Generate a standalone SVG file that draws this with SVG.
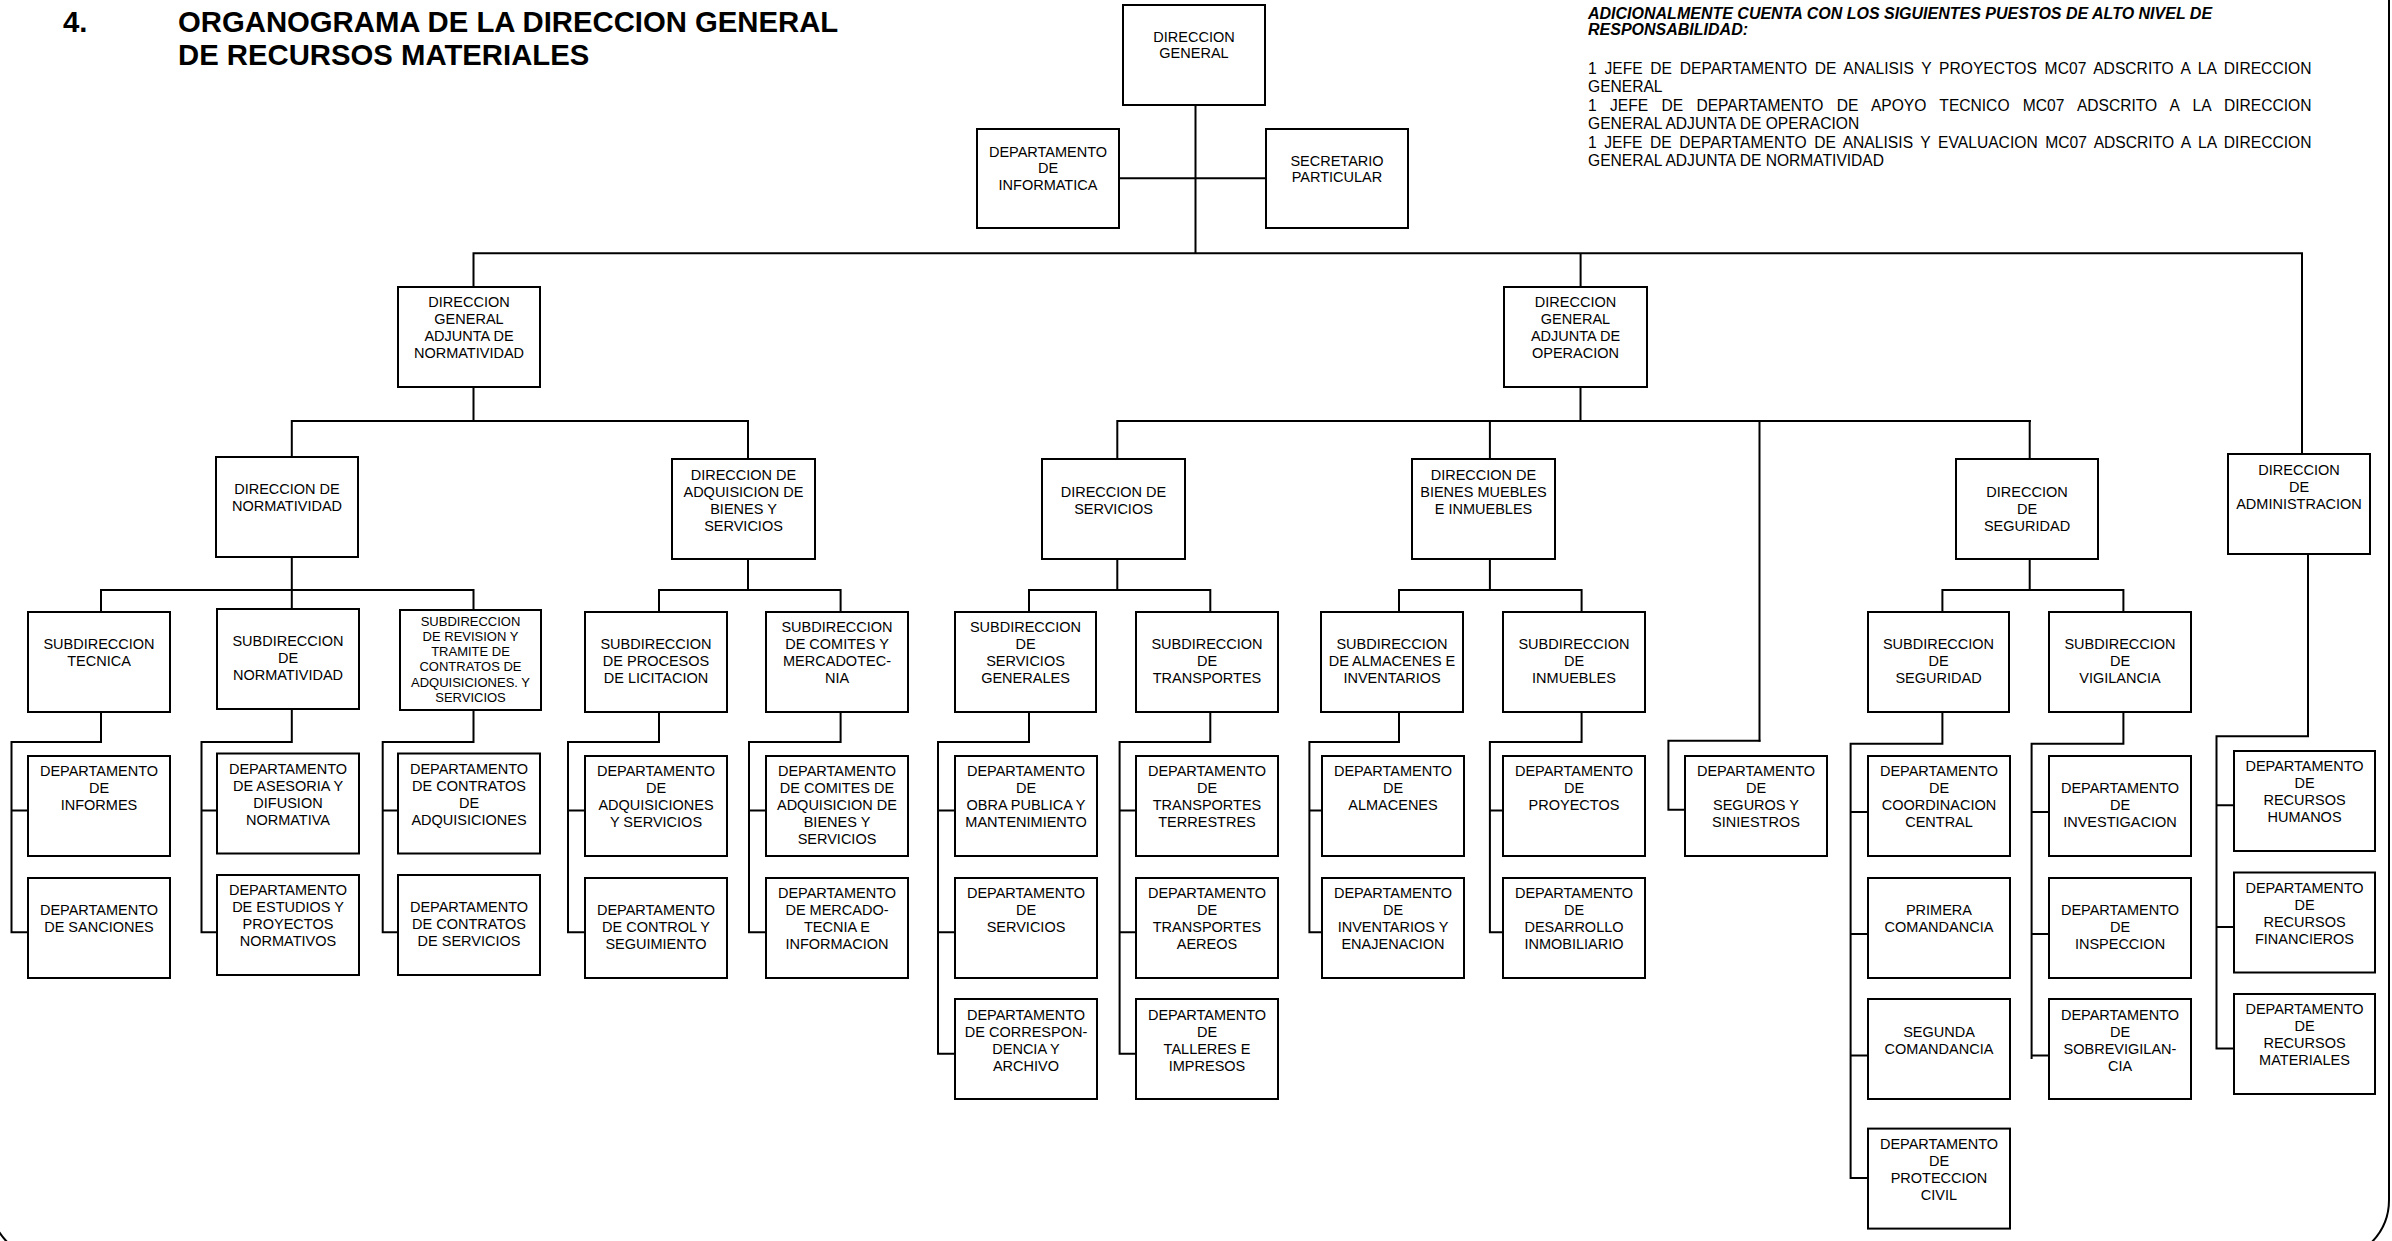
<svg xmlns="http://www.w3.org/2000/svg" width="2392" height="1241" viewBox="0 0 2392 1241">
<style>
.b{fill:#fff;stroke:#000;stroke-width:2}
.t{font-family:"Liberation Sans",Arial,sans-serif;font-size:14.5px;text-anchor:middle;fill:#000}
.s{font-size:13px}
.c{stroke:#000;stroke-width:2;fill:none;stroke-linecap:square}
.h{font-family:"Liberation Sans",Arial,sans-serif;font-weight:bold;font-size:29.3px;fill:#000}
.n{font-family:"Liberation Sans",Arial,sans-serif;font-size:15.6px;fill:#000}
.ni{font-family:"Liberation Sans",Arial,sans-serif;font-size:16px;font-weight:bold;font-style:italic;fill:#000}
</style>
<rect width="2392" height="1241" fill="#fff"/>
<rect x="-10" y="-200" width="2399" height="1460" rx="60" fill="none" stroke="#000" stroke-width="2"/>

<g id="title">
<text class="h" x="63" y="32">4.</text>
<text class="h" x="178" y="32">ORGANOGRAMA DE LA DIRECCION GENERAL</text>
<text class="h" x="178" y="65">DE RECURSOS MATERIALES</text>
</g>

<g id="nota">
<text class="ni" x="1588" y="19">ADICIONALMENTE CUENTA CON LOS SIGUIENTES PUESTOS DE ALTO NIVEL DE</text>
<text class="ni" x="1588" y="35">RESPONSABILIDAD:</text>
<text class="n" x="1588" y="74" word-spacing="3.3" textLength="723.5" lengthAdjust="spacing">1 JEFE DE DEPARTAMENTO DE ANALISIS Y PROYECTOS MC07 ADSCRITO A LA DIRECCION</text>
<text class="n" x="1588" y="92.4">GENERAL</text>
<text class="n" x="1588" y="110.8" word-spacing="9" textLength="723.5" lengthAdjust="spacing">1 JEFE DE DEPARTAMENTO DE APOYO TECNICO MC07 ADSCRITO A LA DIRECCION</text>
<text class="n" x="1588" y="129.2">GENERAL ADJUNTA DE OPERACION</text>
<text class="n" x="1588" y="147.6" word-spacing="3.2" textLength="723.5" lengthAdjust="spacing">1 JEFE DE DEPARTAMENTO DE ANALISIS Y EVALUACION MC07 ADSCRITO A LA DIRECCION</text>
<text class="n" x="1588" y="166">GENERAL ADJUNTA DE NORMATIVIDAD</text>
</g>

<g id="connectors" class="c">
<path d="M1195.5 105V253.3M1119 178.3H1266M473.5 253.3H2302M473.5 253.3V287M1580.6 253.3V287M2302 253.3V454"/>
<path d="M473.5 387V421M291.8 421H748M291.8 421V457M748 421V459"/>
<path d="M1580.5 387V421M1117.3 421H2030M1117.3 421V459M1489.9 421V459M2029.7 421V459M1759.5 421V740.7"/>
<path d="M291.8 557V609M101 590H473.5M101 590V612M473.5 590V610"/>
<path d="M748 559V590M659 590H840.6M659 590V612M840.6 590V612"/>
<path d="M1117.3 559V590M1029 590H1210.3M1029 590V612M1210.3 590V612"/>
<path d="M1489.9 559V590M1399 590H1581.6M1399 590V612M1581.6 590V612"/>
<path d="M2029.7 559V590M1942.4 590H2123.4M1942.4 590V612M2123.4 590V612"/>
<path d="M101 712V742H11.5V932.2M11.5 810.4H28M11.5 932.2H28"/>
<path d="M291.8 709V742H201.5V932.2M201.5 810.4H217M201.5 932.2H217"/>
<path d="M473.5 710V742H382.7V932.2M382.7 810.4H398M382.7 932.2H398"/>
<path d="M659 712V742H568V932.2M568 810.4H585M568 932.2H585"/>
<path d="M840.6 712V742H749V932.2M749 810.4H766M749 932.2H766"/>
<path d="M1029 712V742H938V1053.7M938 810.4H955M938 932.2H955M938 1053.7H955"/>
<path d="M1210.3 712V742H1119.6V1053.7M1119.6 810.4H1136M1119.6 932.2H1136M1119.6 1053.7H1136"/>
<path d="M1399 712V742H1309.4V932.2M1309.4 810.4H1322M1309.4 932.2H1322"/>
<path d="M1581.6 712V742H1489.9V932.2M1489.9 810.4H1503M1489.9 932.2H1503"/>
<path d="M1759.5 740.7H1668.4V809.7H1685"/>
<path d="M1942.4 712V743.8H1850.6V1178M1850.6 812H1868M1850.6 934H1868M1850.6 1055.4H1868M1850.6 1178H1868"/>
<path d="M2123.4 712V743.8H2031.6V1058M2031.6 812H2049M2031.6 934H2049M2031.6 1055.4H2049"/>
<path d="M2308 554V736.2H2216.5V1048.5M2216.5 805.2H2234M2216.5 927H2234M2216.5 1048.5H2234"/>
</g>

<g id="dg"><rect class="b" x="1123" y="5" width="142" height="100"/><text class="t"><tspan x="1194" y="42">DIRECCION</tspan><tspan x="1194" y="58">GENERAL</tspan></text></g>
<g id="dep-informatica"><rect class="b" x="977" y="129" width="142" height="99"/><text class="t"><tspan x="1048" y="157">DEPARTAMENTO</tspan><tspan x="1048" y="173">DE</tspan><tspan x="1048" y="190">INFORMATICA</tspan></text></g>
<g id="secretario"><rect class="b" x="1266" y="129" width="142" height="99"/><text class="t"><tspan x="1337" y="166">SECRETARIO</tspan><tspan x="1337" y="182">PARTICULAR</tspan></text></g>

<g id="dga-normatividad"><rect class="b" x="398" y="287" width="142" height="100"/><text class="t"><tspan x="469" y="307">DIRECCION</tspan><tspan x="469" y="324">GENERAL</tspan><tspan x="469" y="341">ADJUNTA DE</tspan><tspan x="469" y="358">NORMATIVIDAD</tspan></text></g>
<g id="dga-operacion"><rect class="b" x="1504" y="287" width="143" height="100"/><text class="t"><tspan x="1575.5" y="307">DIRECCION</tspan><tspan x="1575.5" y="324">GENERAL</tspan><tspan x="1575.5" y="341">ADJUNTA DE</tspan><tspan x="1575.5" y="358">OPERACION</tspan></text></g>

<g id="dir-normatividad"><rect class="b" x="216" y="457" width="142" height="100"/><text class="t"><tspan x="287" y="494">DIRECCION DE</tspan><tspan x="287" y="511">NORMATIVIDAD</tspan></text></g>
<g id="dir-adquisicion"><rect class="b" x="672" y="459" width="143" height="100"/><text class="t"><tspan x="743.5" y="480">DIRECCION DE</tspan><tspan x="743.5" y="497">ADQUISICION DE</tspan><tspan x="743.5" y="514">BIENES Y</tspan><tspan x="743.5" y="531">SERVICIOS</tspan></text></g>
<g id="dir-servicios"><rect class="b" x="1042" y="459" width="143" height="100"/><text class="t"><tspan x="1113.5" y="497">DIRECCION DE</tspan><tspan x="1113.5" y="514">SERVICIOS</tspan></text></g>
<g id="dir-bienes"><rect class="b" x="1412" y="459" width="143" height="100"/><text class="t"><tspan x="1483.5" y="480">DIRECCION DE</tspan><tspan x="1483.5" y="497">BIENES MUEBLES</tspan><tspan x="1483.5" y="514">E INMUEBLES</tspan></text></g>
<g id="dir-seguridad"><rect class="b" x="1956" y="459" width="142" height="100"/><text class="t"><tspan x="2027" y="497">DIRECCION</tspan><tspan x="2027" y="514">DE</tspan><tspan x="2027" y="531">SEGURIDAD</tspan></text></g>
<g id="dir-administracion"><rect class="b" x="2228" y="454" width="142" height="100"/><text class="t"><tspan x="2299" y="475">DIRECCION</tspan><tspan x="2299" y="492">DE</tspan><tspan x="2299" y="509">ADMINISTRACION</tspan></text></g>

<g id="sub-tecnica"><rect class="b" x="28" y="612" width="142" height="100"/><text class="t"><tspan x="99" y="649">SUBDIRECCION</tspan><tspan x="99" y="666">TECNICA</tspan></text></g>
<g id="sub-normatividad"><rect class="b" x="217" y="609" width="142" height="100"/><text class="t"><tspan x="288" y="646">SUBDIRECCION</tspan><tspan x="288" y="663">DE</tspan><tspan x="288" y="680">NORMATIVIDAD</tspan></text></g>
<g id="sub-revision"><rect class="b" x="400" y="610" width="141" height="100"/><text class="t s"><tspan x="470.5" y="625.6">SUBDIRECCION</tspan><tspan x="470.5" y="641.3">DE REVISION Y</tspan><tspan x="470.5" y="656.3">TRAMITE DE</tspan><tspan x="470.5" y="671.3">CONTRATOS DE</tspan><tspan x="470.5" y="686.9">ADQUISICIONES. Y</tspan><tspan x="470.5" y="701.9">SERVICIOS</tspan></text></g>
<g id="sub-procesos"><rect class="b" x="585" y="612" width="142" height="100"/><text class="t"><tspan x="656" y="649">SUBDIRECCION</tspan><tspan x="656" y="666">DE PROCESOS</tspan><tspan x="656" y="683">DE LICITACION</tspan></text></g>
<g id="sub-comites"><rect class="b" x="766" y="612" width="142" height="100"/><text class="t"><tspan x="837" y="632">SUBDIRECCION</tspan><tspan x="837" y="649">DE COMITES Y</tspan><tspan x="837" y="666">MERCADOTEC-</tspan><tspan x="837" y="683">NIA</tspan></text></g>
<g id="sub-servicios-generales"><rect class="b" x="955" y="612" width="141" height="100"/><text class="t"><tspan x="1025.5" y="632">SUBDIRECCION</tspan><tspan x="1025.5" y="649">DE</tspan><tspan x="1025.5" y="666">SERVICIOS</tspan><tspan x="1025.5" y="683">GENERALES</tspan></text></g>
<g id="sub-transportes"><rect class="b" x="1136" y="612" width="142" height="100"/><text class="t"><tspan x="1207" y="649">SUBDIRECCION</tspan><tspan x="1207" y="666">DE</tspan><tspan x="1207" y="683">TRANSPORTES</tspan></text></g>
<g id="sub-almacenes"><rect class="b" x="1321" y="612" width="142" height="100"/><text class="t"><tspan x="1392" y="649">SUBDIRECCION</tspan><tspan x="1392" y="666">DE ALMACENES E</tspan><tspan x="1392" y="683">INVENTARIOS</tspan></text></g>
<g id="sub-inmuebles"><rect class="b" x="1503" y="612" width="142" height="100"/><text class="t"><tspan x="1574" y="649">SUBDIRECCION</tspan><tspan x="1574" y="666">DE</tspan><tspan x="1574" y="683">INMUEBLES</tspan></text></g>
<g id="sub-seguridad"><rect class="b" x="1868" y="612" width="141" height="100"/><text class="t"><tspan x="1938.5" y="649">SUBDIRECCION</tspan><tspan x="1938.5" y="666">DE</tspan><tspan x="1938.5" y="683">SEGURIDAD</tspan></text></g>
<g id="sub-vigilancia"><rect class="b" x="2049" y="612" width="142" height="100"/><text class="t"><tspan x="2120" y="649">SUBDIRECCION</tspan><tspan x="2120" y="666">DE</tspan><tspan x="2120" y="683">VIGILANCIA</tspan></text></g>

<g id="dep-informes"><rect class="b" x="28" y="756" width="142" height="100"/><text class="t"><tspan x="99" y="776">DEPARTAMENTO</tspan><tspan x="99" y="793">DE</tspan><tspan x="99" y="810">INFORMES</tspan></text></g>
<g id="dep-sanciones"><rect class="b" x="28" y="878" width="142" height="100"/><text class="t"><tspan x="99" y="915">DEPARTAMENTO</tspan><tspan x="99" y="932">DE SANCIONES</tspan></text></g>
<g id="dep-asesoria"><rect class="b" x="217" y="753.5" width="142" height="100"/><text class="t"><tspan x="288" y="774">DEPARTAMENTO</tspan><tspan x="288" y="791">DE ASESORIA Y</tspan><tspan x="288" y="808">DIFUSION</tspan><tspan x="288" y="825">NORMATIVA</tspan></text></g>
<g id="dep-estudios"><rect class="b" x="217" y="875" width="142" height="100"/><text class="t"><tspan x="288" y="895">DEPARTAMENTO</tspan><tspan x="288" y="912">DE ESTUDIOS Y</tspan><tspan x="288" y="929">PROYECTOS</tspan><tspan x="288" y="946">NORMATIVOS</tspan></text></g>
<g id="dep-contratos-adquisiciones"><rect class="b" x="398" y="753.5" width="142" height="100"/><text class="t"><tspan x="469" y="774">DEPARTAMENTO</tspan><tspan x="469" y="791">DE CONTRATOS</tspan><tspan x="469" y="808">DE</tspan><tspan x="469" y="825">ADQUISICIONES</tspan></text></g>
<g id="dep-contratos-servicios"><rect class="b" x="398" y="875" width="142" height="100"/><text class="t"><tspan x="469" y="912">DEPARTAMENTO</tspan><tspan x="469" y="929">DE CONTRATOS</tspan><tspan x="469" y="946">DE SERVICIOS</tspan></text></g>
<g id="dep-adquisiciones"><rect class="b" x="585" y="756" width="142" height="100"/><text class="t"><tspan x="656" y="776">DEPARTAMENTO</tspan><tspan x="656" y="793">DE</tspan><tspan x="656" y="810">ADQUISICIONES</tspan><tspan x="656" y="827">Y SERVICIOS</tspan></text></g>
<g id="dep-control"><rect class="b" x="585" y="878" width="142" height="100"/><text class="t"><tspan x="656" y="915">DEPARTAMENTO</tspan><tspan x="656" y="932">DE CONTROL Y</tspan><tspan x="656" y="949">SEGUIMIENTO</tspan></text></g>
<g id="dep-comites"><rect class="b" x="766" y="756" width="142" height="100"/><text class="t"><tspan x="837" y="776">DEPARTAMENTO</tspan><tspan x="837" y="793">DE COMITES DE</tspan><tspan x="837" y="810">ADQUISICION DE</tspan><tspan x="837" y="827">BIENES Y</tspan><tspan x="837" y="844">SERVICIOS</tspan></text></g>
<g id="dep-mercadotecnia"><rect class="b" x="766" y="878" width="142" height="100"/><text class="t"><tspan x="837" y="898">DEPARTAMENTO</tspan><tspan x="837" y="915">DE MERCADO-</tspan><tspan x="837" y="932">TECNIA E</tspan><tspan x="837" y="949">INFORMACION</tspan></text></g>
<g id="dep-obra-publica"><rect class="b" x="955" y="756" width="142" height="100"/><text class="t"><tspan x="1026" y="776">DEPARTAMENTO</tspan><tspan x="1026" y="793">DE</tspan><tspan x="1026" y="810">OBRA PUBLICA Y</tspan><tspan x="1026" y="827">MANTENIMIENTO</tspan></text></g>
<g id="dep-servicios"><rect class="b" x="955" y="878" width="142" height="100"/><text class="t"><tspan x="1026" y="898">DEPARTAMENTO</tspan><tspan x="1026" y="915">DE</tspan><tspan x="1026" y="932">SERVICIOS</tspan></text></g>
<g id="dep-correspondencia"><rect class="b" x="955" y="999" width="142" height="100"/><text class="t"><tspan x="1026" y="1020">DEPARTAMENTO</tspan><tspan x="1026" y="1037">DE CORRESPON-</tspan><tspan x="1026" y="1054">DENCIA Y</tspan><tspan x="1026" y="1071">ARCHIVO</tspan></text></g>
<g id="dep-transportes-terrestres"><rect class="b" x="1136" y="756" width="142" height="100"/><text class="t"><tspan x="1207" y="776">DEPARTAMENTO</tspan><tspan x="1207" y="793">DE</tspan><tspan x="1207" y="810">TRANSPORTES</tspan><tspan x="1207" y="827">TERRESTRES</tspan></text></g>
<g id="dep-transportes-aereos"><rect class="b" x="1136" y="878" width="142" height="100"/><text class="t"><tspan x="1207" y="898">DEPARTAMENTO</tspan><tspan x="1207" y="915">DE</tspan><tspan x="1207" y="932">TRANSPORTES</tspan><tspan x="1207" y="949">AEREOS</tspan></text></g>
<g id="dep-talleres"><rect class="b" x="1136" y="999" width="142" height="100"/><text class="t"><tspan x="1207" y="1020">DEPARTAMENTO</tspan><tspan x="1207" y="1037">DE</tspan><tspan x="1207" y="1054">TALLERES E</tspan><tspan x="1207" y="1071">IMPRESOS</tspan></text></g>
<g id="dep-almacenes"><rect class="b" x="1322" y="756" width="142" height="100"/><text class="t"><tspan x="1393" y="776">DEPARTAMENTO</tspan><tspan x="1393" y="793">DE</tspan><tspan x="1393" y="810">ALMACENES</tspan></text></g>
<g id="dep-inventarios"><rect class="b" x="1322" y="878" width="142" height="100"/><text class="t"><tspan x="1393" y="898">DEPARTAMENTO</tspan><tspan x="1393" y="915">DE</tspan><tspan x="1393" y="932">INVENTARIOS Y</tspan><tspan x="1393" y="949">ENAJENACION</tspan></text></g>
<g id="dep-proyectos"><rect class="b" x="1503" y="756" width="142" height="100"/><text class="t"><tspan x="1574" y="776">DEPARTAMENTO</tspan><tspan x="1574" y="793">DE</tspan><tspan x="1574" y="810">PROYECTOS</tspan></text></g>
<g id="dep-desarrollo"><rect class="b" x="1503" y="878" width="142" height="100"/><text class="t"><tspan x="1574" y="898">DEPARTAMENTO</tspan><tspan x="1574" y="915">DE</tspan><tspan x="1574" y="932">DESARROLLO</tspan><tspan x="1574" y="949">INMOBILIARIO</tspan></text></g>
<g id="dep-seguros"><rect class="b" x="1685" y="756" width="142" height="100"/><text class="t"><tspan x="1756" y="776">DEPARTAMENTO</tspan><tspan x="1756" y="793">DE</tspan><tspan x="1756" y="810">SEGUROS Y</tspan><tspan x="1756" y="827">SINIESTROS</tspan></text></g>
<g id="dep-coordinacion"><rect class="b" x="1868" y="756" width="142" height="100"/><text class="t"><tspan x="1939" y="776">DEPARTAMENTO</tspan><tspan x="1939" y="793">DE</tspan><tspan x="1939" y="810">COORDINACION</tspan><tspan x="1939" y="827">CENTRAL</tspan></text></g>
<g id="primera-comandancia"><rect class="b" x="1868" y="878" width="142" height="100"/><text class="t"><tspan x="1939" y="915">PRIMERA</tspan><tspan x="1939" y="932">COMANDANCIA</tspan></text></g>
<g id="segunda-comandancia"><rect class="b" x="1868" y="999" width="142" height="100"/><text class="t"><tspan x="1939" y="1037">SEGUNDA</tspan><tspan x="1939" y="1054">COMANDANCIA</tspan></text></g>
<g id="dep-proteccion-civil"><rect class="b" x="1868" y="1128.6" width="142" height="100"/><text class="t"><tspan x="1939" y="1148.5">DEPARTAMENTO</tspan><tspan x="1939" y="1166">DE</tspan><tspan x="1939" y="1183">PROTECCION</tspan><tspan x="1939" y="1200">CIVIL</tspan></text></g>
<g id="dep-investigacion"><rect class="b" x="2049" y="756" width="142" height="100"/><text class="t"><tspan x="2120" y="793">DEPARTAMENTO</tspan><tspan x="2120" y="810">DE</tspan><tspan x="2120" y="827">INVESTIGACION</tspan></text></g>
<g id="dep-inspeccion"><rect class="b" x="2049" y="878" width="142" height="100"/><text class="t"><tspan x="2120" y="915">DEPARTAMENTO</tspan><tspan x="2120" y="932">DE</tspan><tspan x="2120" y="949">INSPECCION</tspan></text></g>
<g id="dep-sobrevigilancia"><rect class="b" x="2049" y="999" width="142" height="100"/><text class="t"><tspan x="2120" y="1020">DEPARTAMENTO</tspan><tspan x="2120" y="1037">DE</tspan><tspan x="2120" y="1054">SOBREVIGILAN-</tspan><tspan x="2120" y="1071">CIA</tspan></text></g>
<g id="dep-recursos-humanos"><rect class="b" x="2234" y="751" width="141" height="100"/><text class="t"><tspan x="2304.5" y="771">DEPARTAMENTO</tspan><tspan x="2304.5" y="788">DE</tspan><tspan x="2304.5" y="805">RECURSOS</tspan><tspan x="2304.5" y="822">HUMANOS</tspan></text></g>
<g id="dep-recursos-financieros"><rect class="b" x="2234" y="872.5" width="141" height="100"/><text class="t"><tspan x="2304.5" y="893">DEPARTAMENTO</tspan><tspan x="2304.5" y="910">DE</tspan><tspan x="2304.5" y="927">RECURSOS</tspan><tspan x="2304.5" y="944">FINANCIEROS</tspan></text></g>
<g id="dep-recursos-materiales"><rect class="b" x="2234" y="994" width="141" height="100"/><text class="t"><tspan x="2304.5" y="1014">DEPARTAMENTO</tspan><tspan x="2304.5" y="1031">DE</tspan><tspan x="2304.5" y="1048">RECURSOS</tspan><tspan x="2304.5" y="1065">MATERIALES</tspan></text></g>
</svg>
